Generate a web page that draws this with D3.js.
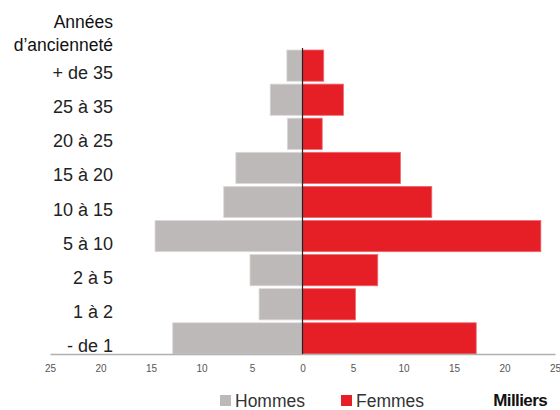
<!DOCTYPE html>
<html><head><meta charset="utf-8">
<script src="https://cdn.jsdelivr.net/npm/d3@7"></script>
<style>body{margin:0;background:#fff}svg{display:block;font-family:"Liberation Sans",Arial,sans-serif}</style>
</head><body><svg id="c" width="560" height="410"></svg>
<script>
const categories = ["+ de 35","25 à 35","20 à 25","15 à 20","10 à 15","5 à 10","2 à 5","1 à 2","- de 1"];
const hommes = [1.55, 3.2, 1.5, 6.6, 7.8, 14.6, 5.2, 4.3, 12.85];
const femmes = [2.1, 4.05, 1.95, 9.7, 12.8, 23.6, 7.45, 5.25, 17.2];
const tickValues = [-25,-20,-15,-10,-5,0,5,10,15,20,25];
const titleLines = ["Années","d’ancienneté"];
const legendLabels = ["Hommes","Femmes"];
const unitLabel = "Milliers";

const svg = d3.select("#c");
const x = d3.scaleLinear().domain([-25,25]).range([50,555]);
const y = d3.scaleBand().domain(categories).range([49,355]).paddingInner(0.085).paddingOuter(0.03);
const grey = "#bdb9b8", red = "#e61e26";

svg.append("g").selectAll("rect").data(categories).join("rect")
  .attr("x", (d,i)=>x(-hommes[i])).attr("y", d=>y(d))
  .attr("width", (d,i)=>x(0)-x(-hommes[i])).attr("height", y.bandwidth())
  .attr("fill", grey).attr("stroke","#dcd9d8").attr("stroke-width",0.8);
svg.append("g").selectAll("rect").data(categories).join("rect")
  .attr("x", x(0)).attr("y", d=>y(d))
  .attr("width", (d,i)=>x(femmes[i])-x(0)).attr("height", y.bandwidth())
  .attr("fill", red).attr("stroke","#ee6a6f").attr("stroke-width",0.8);

// x axis
const ax = svg.append("g").attr("transform","translate(0,354)")
  .call(d3.axisBottom(x).tickValues(tickValues).tickSize(0).tickPadding(11).tickFormat(d=>Math.abs(d)));
ax.select(".domain").attr("stroke","#b0b0b0").attr("stroke-width",1.5);
ax.selectAll("text").attr("font-size",10).attr("fill","#555").attr("font-family","Liberation Sans, Arial, sans-serif");

// center line
svg.append("line").attr("x1",x(0)).attr("x2",x(0)).attr("y1",48).attr("y2",354)
  .attr("stroke","#222").attr("stroke-width",1.2);

// category labels
svg.append("g").selectAll("text").data(categories).join("text")
  .attr("x",113).attr("y", d=>y(d)+y.bandwidth()/2+13.5)
  .attr("text-anchor","end").attr("font-size",18).attr("fill","#222").text(d=>d);

// title
svg.append("g").selectAll("text").data(titleLines).join("text")
  .attr("x",113).attr("y",(d,i)=>28+i*23).attr("text-anchor","end")
  .attr("font-size",17.5).attr("fill","#111").text(d=>d);

// legend
const lx = [220, 341];
const lg = svg.append("g").selectAll("g").data(legendLabels).join("g")
  .attr("transform",(d,i)=>`translate(${lx[i]},395)`);
lg.append("rect").attr("width",11).attr("height",11).attr("fill",(d,i)=>i?red:grey);
lg.append("text").attr("x",15).attr("y",11.5).attr("font-size",17.5).attr("fill","#333").text(d=>d);

svg.append("text").attr("x",547).attr("y",406).attr("text-anchor","end")
  .attr("font-size",17).attr("font-weight","bold").attr("letter-spacing",-0.6).attr("fill","#111").text(unitLabel);
</script></body></html>
